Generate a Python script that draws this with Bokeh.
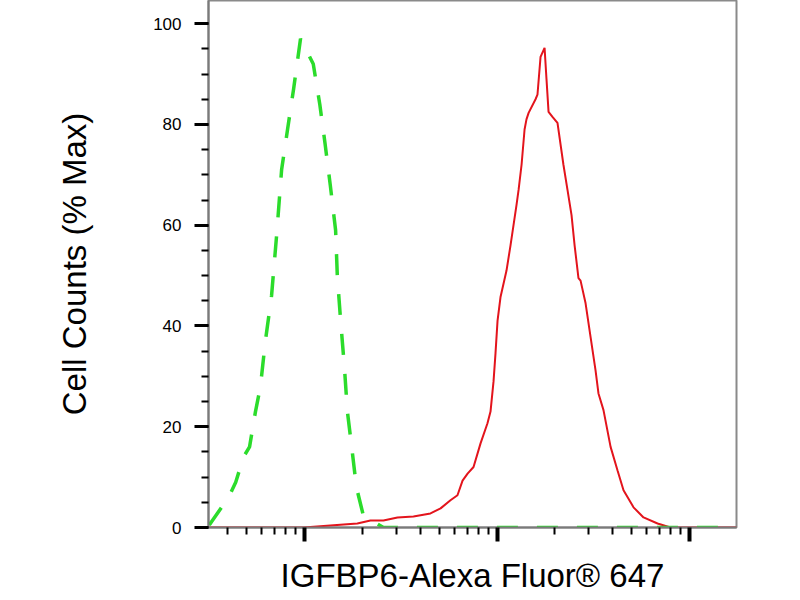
from bokeh.plotting import figure
from bokeh.models import Range1d, FixedTicker, SingleIntervalTicker, CustomJSTickFormatter
from bokeh.embed import file_html
from bokeh.resources import INLINE

# isotype control (green dashed)
ctrl_x = [32, 40.3, 43.9, 48.2, 51.8, 55.6, 59.0, 62.6, 67.4, 71.6, 76.0, 81.6, 87.7, 95.3,
          111, 120, 128, 136, 145, 148, 154, 161, 167, 177, 186, 202, 257, 17540]
ctrl_y = [0.5, 6, 9, 14, 16, 23, 28, 37, 46, 58, 71, 79, 87, 97,
          92, 84, 76, 68, 59, 50, 41, 32, 23, 15, 8, 2.4, 0, 0]

# IGFBP6 stained cells (red)
igf_x = [32, 99, 136, 188, 220, 257, 304, 368, 451, 509,
         573, 623, 662, 703, 755, 821, 892, 925, 959, 982,
         1006, 1042, 1120, 1175, 1218, 1262, 1294, 1341, 1390, 1422,
         1459, 1585, 1622, 1683, 1766, 1807, 1852, 1941, 2061, 2213,
         2323, 2438, 2529, 2649, 2716, 2884, 3062, 3249, 3365, 3573,
         3890, 4227, 4540, 5117, 5768, 6823, 7962, 17540]
igf_y = [0, 0, 0.4, 0.8, 1.4, 1.4, 2.0, 2.2, 2.8, 3.8,
         5.4, 6.4, 9.3, 10.7, 12, 16.7, 20.7, 23, 29, 34.6,
         41, 45.7, 51, 56, 60, 64, 67, 72, 79, 81,
         82.3, 85, 85.9, 93.4, 95.2, 89, 82.5, 81.5, 80.3, 72,
         67, 62, 56, 49.5, 49, 44.5, 37.8, 31.2, 26.6, 23.3,
         16, 11.3, 7.4, 4, 2, 0.8, 0, 0]

x_major = [100, 1000, 10000]
x_minor = [k * 10 ** e for e in (1, 2, 3) for k in range(2, 10)]

p = figure(width=780, height=596, x_axis_type="log",
           x_range=Range1d(31.7, 17540), y_range=Range1d(0, 104.6),
           output_backend="svg", toolbar_location=None,
           min_border_left=208, min_border_right=44, min_border_top=0, min_border_bottom=69)
p.grid.visible = False
p.outline_line_color = "#8a8a8a"
p.outline_line_width = 2
p.background_fill_color = "white"
p.border_fill_color = "white"

p.line(igf_x, igf_y, line_color="#e3141c", line_width=2)
p.line(ctrl_x, ctrl_y, line_color="#2bdc2b", line_width=3.5, line_dash="21 19")

# x axis: log decades, no numbers
xa = p.xaxis[0]
xa.ticker = FixedTicker(ticks=x_major, minor_ticks=x_minor)
xa.formatter = CustomJSTickFormatter(code="return ''")
xa.major_label_text_font_size = "1px"
xa.major_label_standoff = 0
xa.axis_line_color = "#7a7a7a"
xa.axis_line_width = 2
xa.major_tick_line_color = "black"
xa.major_tick_line_width = 4
xa.major_tick_out = 14
xa.major_tick_in = 0
xa.minor_tick_line_color = "black"
xa.minor_tick_line_width = 2
xa.minor_tick_out = 7
xa.minor_tick_in = 0
xa.axis_label = "IGFBP6-Alexa Fluor® 647"
xa.axis_label_text_font = "Liberation Sans"
xa.axis_label_text_font_style = "normal"
xa.axis_label_text_font_size = "33px"
xa.axis_label_text_color = "black"
xa.axis_label_standoff = 15

ya = p.yaxis[0]
ya.ticker = SingleIntervalTicker(interval=20, num_minor_ticks=4)
ya.axis_line_color = "#7a7a7a"
ya.axis_line_width = 2
ya.major_tick_line_color = "black"
ya.major_tick_line_width = 3
ya.major_tick_out = 14
ya.major_tick_in = 0
ya.minor_tick_line_color = "black"
ya.minor_tick_line_width = 2
ya.minor_tick_out = 7
ya.minor_tick_in = 0
ya.major_label_text_font = "Liberation Sans"
ya.major_label_text_font_size = "17px"
ya.major_label_text_color = "black"
ya.major_label_standoff = 13
ya.axis_label = "Cell Counts (% Max)"
ya.axis_label_text_font = "Liberation Sans"
ya.axis_label_text_font_style = "normal"
ya.axis_label_text_font_size = "33px"
ya.axis_label_text_color = "black"
ya.axis_label_standoff = 57

open("out.html", "w").write(file_html(p, INLINE))
